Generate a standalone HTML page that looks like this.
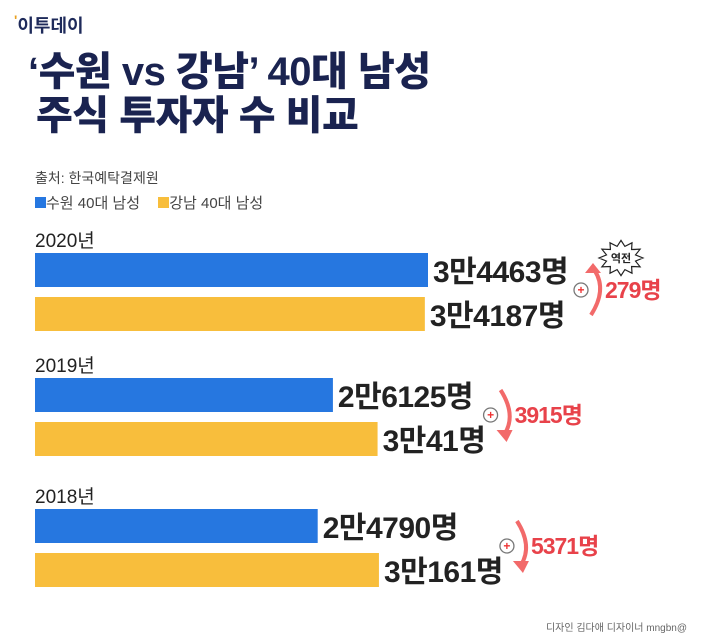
<!DOCTYPE html>
<html><head><meta charset="utf-8"><style>
body{margin:0;width:701px;height:641px;background:#fff;overflow:hidden;position:relative;font-family:"Liberation Sans","Noto Sans CJK KR",sans-serif}
.a{position:absolute;white-space:nowrap}
</style></head><body>
<div class="a" style="left:14px;top:12px;font-size:18px;font-weight:bold;color:#1e2a5a"><span style="color:#e8a020;font-size:14px;vertical-align:top">'</span>이투데이</div>
<div class="a" style="left:28px;top:50px;font-size:40px;font-weight:900;color:#1a2350;line-height:44px;letter-spacing:-0.5px">‘수원 vs 강남’ 40대 남성<br><span style="margin-left:8px">주식 투자자 수 비교</span></div>
<div class="a" style="left:35px;top:168px;font-size:14px;color:#444">출처: 한국예탁결제원</div>
<div class="a" style="left:35px;top:192px;font-size:15px;color:#444">
<span><span style="display:inline-block;width:11px;height:11px;background:#2677e0"></span>수원 40대 남성</span>
<span style="margin-left:14px"><span style="display:inline-block;width:11px;height:11px;background:#f8be3c"></span>강남 40대 남성</span></div>
<svg id="chart" width="701" height="641" style="position:absolute;left:0;top:0"></svg>
<div class="a" style="right:14px;top:619px;font-size:10px;color:#666">디자인 김다애 디자이너 mngbn@</div>
<script>
const years=["2020년","2019년","2018년"];
const suwon=[34463,26125,24790];
const gangnam=[34187,30041,30161];
const suwonLabels=["3만4463명","2만6125명","2만4790명"];
const gangnamLabels=["3만4187명","3만41명","3만161명"];
const diffLabels=["279명","3915명","5371명"];
const NS="http://www.w3.org/2000/svg";
const svg=document.getElementById('chart');
const x0=35,k=393/34463;
const x=v=>x0+v*k;
const groupTop=[253,378,509];
const annOffset=[165,125,140];
function mk(t,a){const e=document.createElementNS(NS,t);for(const n in a)e.setAttribute(n,a[n]);svg.appendChild(e);return e;}
const F='Liberation Sans, Noto Sans CJK KR, sans-serif';
years.forEach((y,i)=>{
 const t0=groupTop[i];
 const yl=mk('text',{x:35,y:t0-6,'font-size':19,fill:'#222','font-family':F});
 yl.textContent=y;
 
 
 const b1=mk('rect',{x:x0,y:t0,width:x(suwon[i])-x0,height:34,fill:'#2677e0'});
 
 
 const b2=mk('rect',{x:x0,y:t0+44,width:x(gangnam[i])-x0,height:34,fill:'#f8be3c'});
 
 
 const l1=mk('text',{x:x(suwon[i])+5,y:t0+29,'font-size':30,'font-weight':'bold',fill:'#222','letter-spacing':'-0.5','font-family':F});
 l1.textContent=suwonLabels[i];
 
 
 const l2=mk('text',{x:x(gangnam[i])+5,y:t0+73,'font-size':30,'font-weight':'bold',fill:'#222','letter-spacing':'-0.5','font-family':F});
 l2.textContent=gangnamLabels[i];
 
 
 const ax=Math.max(x(suwon[i]),x(gangnam[i]))+annOffset[i];
 const yTop=t0+12,yBot=t0+62;
 const c=mk('circle',{cx:ax-12,cy:(yTop+yBot)/2,r:7,fill:'#fff',stroke:'#777','stroke-width':1.3});
 
 
 mk('text',{x:ax-12,y:(yTop+yBot)/2+4,'font-size':12,'font-weight':'bold',fill:'#e33','text-anchor':'middle'}).textContent='+';
 const up=i==0;
 const from=up?yBot:yTop,to=up?yTop:yBot;
 const p=mk('path',{d:`M${ax-2} ${from} Q${ax+14} ${(yTop+yBot)/2} ${ax+2} ${to+(up?6:-6)}`,fill:'none',stroke:'#f26a6a','stroke-width':4});
 
 
 const tip=up?`M${ax-8} ${to+8} L${ax} ${to-2} L${ax+8} ${to+8}Z`:`M${ax-6} ${to-10} L${ax+4} ${to+2} L${ax+10} ${to-10}Z`;
 mk('path',{d:tip,fill:'#f26a6a'});
 const dl=mk('text',{x:ax+12,y:(yTop+yBot)/2+8,'font-size':23,'font-weight':'bold',fill:'#e8424a','letter-spacing':'-1','font-family':F});
 dl.textContent=diffLabels[i];
 
 
});
const bx=621,by=258;let pts=[];
for(let j=0;j<24;j++){const r=j%2?15:22;const a=j*Math.PI/12;pts.push((bx+r*Math.cos(a)).toFixed(1)+','+(by+r*0.8*Math.sin(a)).toFixed(1));}
const burst=mk('polygon',{points:pts.join(' '),fill:'#fff',stroke:'#222','stroke-width':1.2});


mk('text',{x:bx,y:by+4,'font-size':11,'font-weight':'bold',fill:'#222','text-anchor':'middle','font-family':F}).textContent='역전';
</script>
</body></html>
